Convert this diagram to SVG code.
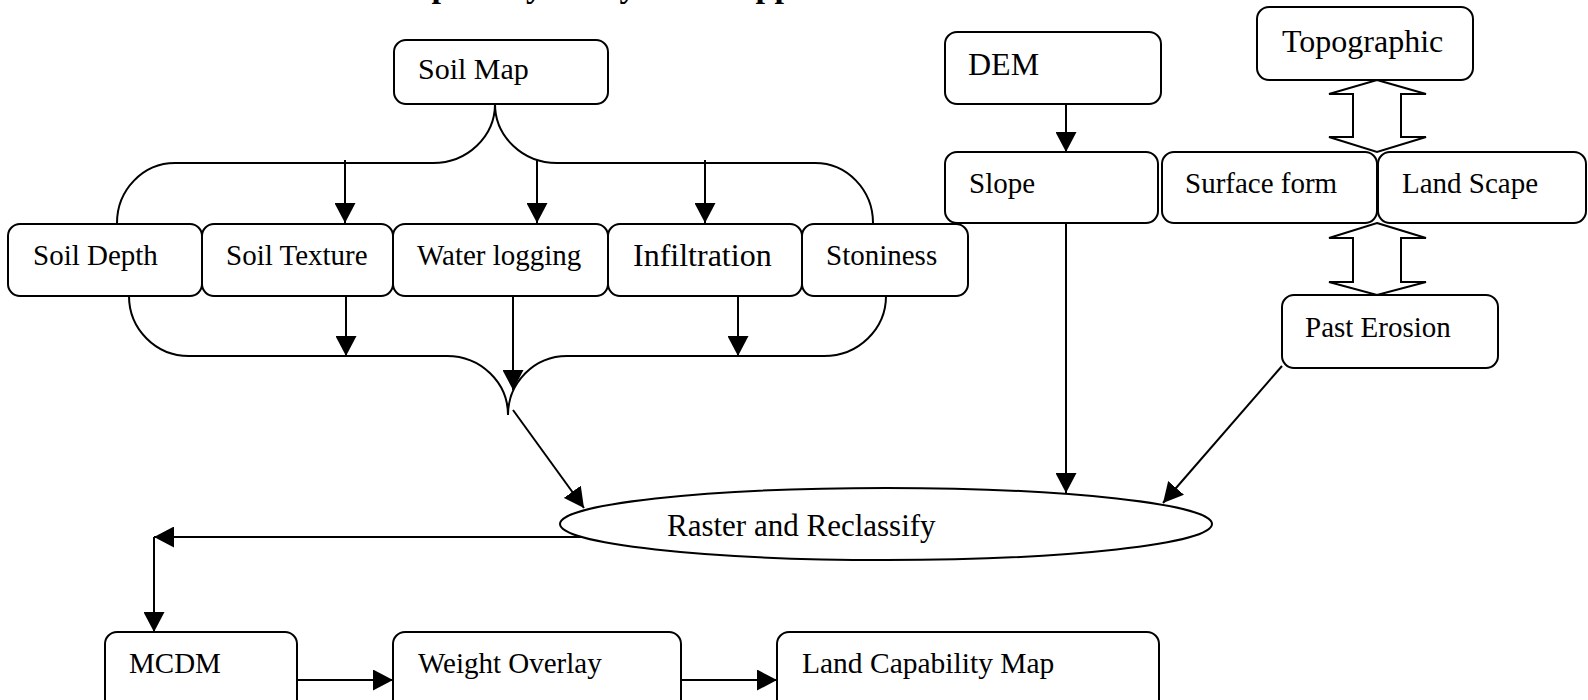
<svg xmlns="http://www.w3.org/2000/svg" width="1588" height="700" viewBox="0 0 1588 700">
<defs>
<style>
.box{fill:#fff;stroke:#000;stroke-width:2}
.t{font-family:"Liberation Serif","Times New Roman",serif;font-size:29px;fill:#000}
.c{fill:none;stroke:#000;stroke-width:2}
.a{fill:none;stroke:#000;stroke-width:2;marker-end:url(#ah)}
.ha{fill:#fff;stroke:#000;stroke-width:2;stroke-linejoin:miter}
</style>
<marker id="ah" markerUnits="userSpaceOnUse" viewBox="0 0 20 21" markerWidth="20" markerHeight="21" refX="20" refY="10.5" orient="auto">
<path d="M0,0 L20,10.5 L0,21 z" fill="#000"/>
</marker>
</defs>
<rect width="1588" height="700" fill="#fff"/>
<text x="304" y="-3" style="font-family:'Liberation Serif','Times New Roman',serif;font-size:34px;font-weight:bold">Land Capability Analysis <tspan x="731">Approach</tspan></text>

<g id="connectors">
<path class="c" d="M117,223 A58,60 0 0 1 175,163 H433 A62,59 0 0 0 495,104 A62,59 0 0 0 557,163 H815 A58,60 0 0 1 873,223"/>
<path class="c" d="M129,296 A60,60 0 0 0 189,356 H447 A61,59 0 0 1 508,415 A59,59 0 0 1 567,356 H824 A62,60 0 0 0 886,296"/>
<line class="a" x1="345" y1="160" x2="345" y2="223"/>
<line class="a" x1="537" y1="160" x2="537" y2="223"/>
<line class="a" x1="705" y1="160" x2="705" y2="223"/>
<line class="a" x1="346" y1="296" x2="346" y2="356"/>
<line class="a" x1="738" y1="296" x2="738" y2="356"/>
<line class="a" x1="513" y1="296" x2="513" y2="390"/>
<line class="a" x1="513" y1="410" x2="584" y2="508"/>
<line class="a" x1="1066" y1="104" x2="1066" y2="152"/>
<line class="a" x1="1066" y1="223" x2="1066" y2="493"/>
<line class="a" x1="1282" y1="366" x2="1163" y2="503"/>
<line class="a" x1="585" y1="537" x2="154" y2="537"/>
<line class="a" x1="154" y1="537" x2="154" y2="632"/>
<line class="a" x1="297" y1="680" x2="393" y2="680"/>
<line class="a" x1="681" y1="680" x2="777" y2="680"/>
<polygon class="ha" points="1377,80 1426,94 1401,94 1401,137 1426,137 1377,152 1329,137 1353,137 1353,94 1329,94"/>
<polygon class="ha" points="1377,223 1426,238 1401,238 1401,282 1426,282 1377,295 1329,282 1353,282 1353,238 1329,238"/>
</g>

<g id="soilmap"><rect class="box" x="394" y="40" width="214" height="64" rx="12"/><text class="t" x="418" y="79" style="font-size:30px">Soil Map</text></g>
<g id="soildepth"><rect class="box" x="8" y="224" width="194" height="72" rx="12"/><text class="t" x="33" y="265">Soil Depth</text></g>
<g id="soiltexture"><rect class="box" x="202" y="224" width="191" height="72" rx="12"/><text class="t" x="226" y="265">Soil Texture</text></g>
<g id="waterlogging"><rect class="box" x="393" y="224" width="215" height="72" rx="12"/><text class="t" x="417" y="265">Water logging</text></g>
<g id="infiltration"><rect class="box" x="608" y="224" width="194" height="72" rx="12"/><text class="t" x="633" y="266" style="font-size:32px">Infiltration</text></g>
<g id="stoniness"><rect class="box" x="802" y="224" width="166" height="72" rx="12"/><text class="t" x="826" y="265">Stoniness</text></g>
<g id="dem"><rect class="box" x="945" y="32" width="216" height="72" rx="12"/><text class="t" x="968" y="75" style="font-size:32px">DEM</text></g>
<g id="slope"><rect class="box" x="945" y="152" width="213" height="71" rx="12"/><text class="t" x="969" y="193">Slope</text></g>
<g id="surfaceform"><rect class="box" x="1162" y="152" width="215" height="71" rx="12"/><text class="t" x="1185" y="193">Surface form</text></g>
<g id="landscape"><rect class="box" x="1378" y="152" width="208" height="71" rx="12"/><text class="t" x="1402" y="193">Land Scape</text></g>
<g id="topographic"><rect class="box" x="1257" y="7" width="216" height="73" rx="12"/><text class="t" x="1282" y="52" style="font-size:32px">Topographic</text></g>
<g id="pasterosion"><rect class="box" x="1282" y="295" width="216" height="73" rx="12"/><text class="t" x="1305" y="337">Past Erosion</text></g>
<g id="raster"><ellipse class="box" cx="886" cy="524" rx="326" ry="36"/><text class="t" x="667" y="536" style="font-size:31px">Raster and Reclassify</text></g>
<g id="mcdm"><rect class="box" x="105" y="632" width="192" height="90" rx="12"/><text class="t" x="129" y="673">MCDM</text></g>
<g id="weightoverlay"><rect class="box" x="393" y="632" width="288" height="90" rx="12"/><text class="t" x="418" y="673">Weight Overlay</text></g>
<g id="landcap"><rect class="box" x="777" y="632" width="382" height="90" rx="12"/><text class="t" x="802" y="673" style="font-size:29.5px">Land Capability Map</text></g>
</svg>
